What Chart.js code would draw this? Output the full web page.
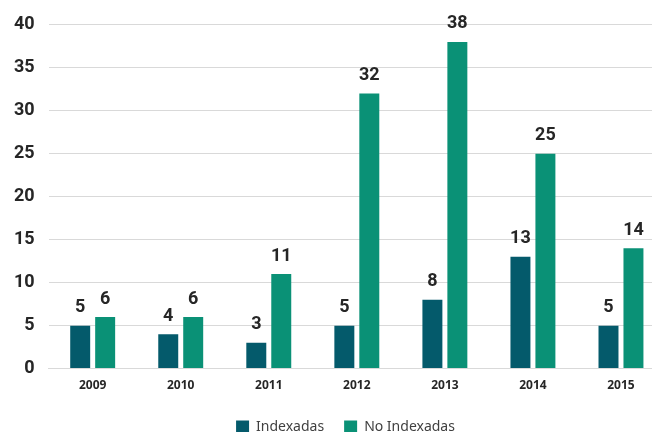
<!DOCTYPE html>
<html>
<head>
<meta charset="utf-8">
<script src="https://cdn.jsdelivr.net/npm/chart.js@4.4.0/dist/chart.umd.min.js"></script>
<style>
  html, body { margin: 0; padding: 0; background: #fff; overflow: hidden; }
  #wrap { width: 666px; height: 432px; }
</style>
</head>
<body>
<div id="wrap"><canvas id="barChart"></canvas></div>
<script>
const years = ['2009', '2010', '2011', '2012', '2013', '2014', '2015'];
const indexadas = [5, 4, 3, 5, 8, 13, 5];
const noIndexadas = [6, 6, 11, 32, 38, 25, 14];
const yTicks = [0, 5, 10, 15, 20, 25, 30, 35, 40];

// labels on top of each bar
const valueLabels = {
  id: 'valueLabels',
  afterDatasetsDraw(chart) {
    const ctx = chart.ctx;
    ctx.save();
    ctx.font = 'bold 18px Roboto';
    ctx.fillStyle = '#262626';
    ctx.textAlign = 'center';
    ctx.textBaseline = 'bottom';
    chart.data.datasets.forEach((ds, i) => {
      chart.getDatasetMeta(i).data.forEach((bar, j) => {
        ctx.fillText(ds.data[j], bar.x, bar.y - 9);
      });
    });
    ctx.restore();
  }
};

// nudge legend a bit right, like the original
const legendShift = {
  id: 'legendShift',
  afterLayout(chart) {
    if (chart.legend) {
      chart.legend.left += 13;
      chart.legend.right += 13;
    }
  }
};

new Chart(document.getElementById('barChart'), {
  type: 'bar',
  data: {
    labels: years,
    datasets: [
      { label: 'Indexadas', data: indexadas, backgroundColor: '#045a6b' },
      { label: 'No Indexadas', data: noIndexadas, backgroundColor: '#0a9176' }
    ]
  },
  options: {
    responsive: true,
    maintainAspectRatio: false,
    animation: false,
    layout: { padding: { top: 11, left: 0, right: 1, bottom: -12 } },
    datasets: { bar: { categoryPercentage: 0.567, barPercentage: 0.8 } },
    scales: {
      x: {
        afterFit: axis => { axis.height += 5; },
        grid: { display: false },
        border: { display: true, color: '#d9d9d9' },
        ticks: { color: '#262626', font: { family: 'Noto Sans', size: 12, weight: 'bold' }, padding: 2 }
      },
      y: {
        min: 0,
        max: 40,
        afterBuildTicks: axis => { axis.ticks = yTicks.map(v => ({ value: v })); },
        grid: { color: '#d9d9d9', drawTicks: false },
        border: { display: false },
        ticks: { color: '#262626', font: { family: 'Roboto', size: 18, weight: 'bold' }, padding: 14 }
      }
    },
    plugins: {
      legend: {
        position: 'bottom',
        labels: {
          color: '#404040',
          font: { family: 'Noto Sans', size: 14 },
          boxWidth: 13,
          boxHeight: 13,
          padding: 20
        }
      },
      tooltip: { enabled: false }
    }
  },
  plugins: [valueLabels, legendShift]
});
</script>
</body>
</html>
